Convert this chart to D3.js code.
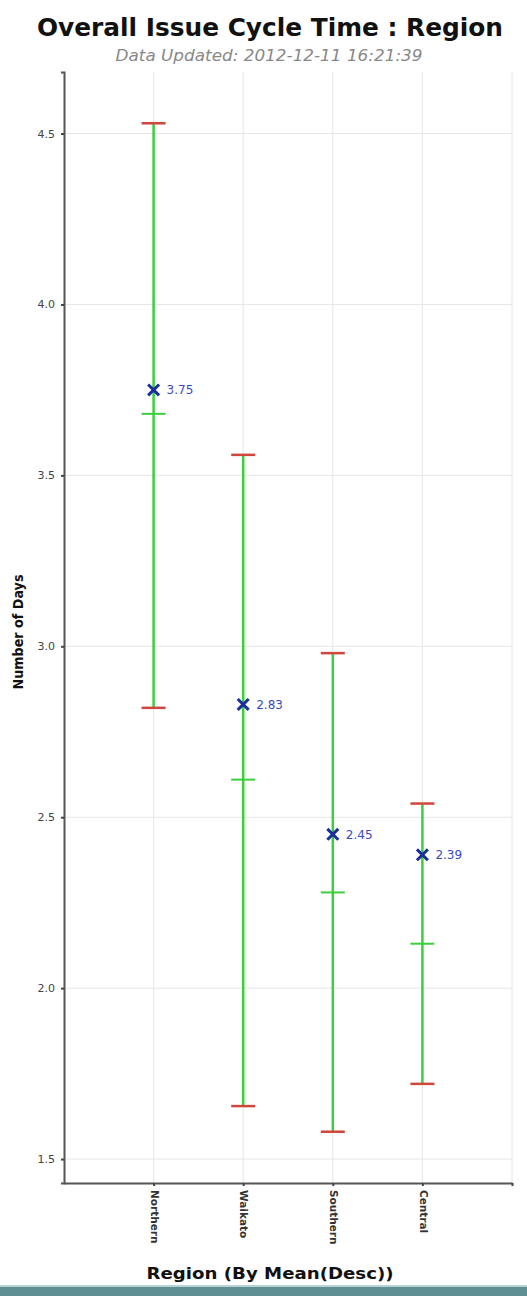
<!DOCTYPE html>
<html>
<head>
<meta charset="utf-8">
<script src="https://cdn.jsdelivr.net/npm/d3@7"></script>
<style>
  body { margin: 0; background: #fff; }
  svg { display: block; font-family: 'DejaVu Sans', Verdana, sans-serif; }
</style>
</head>
<body>
<svg width="527" height="1296"></svg>
<script>
// data
let regions = ['Northern', 'Waikato', 'Southern', 'Central'];
let highs = [4.53, 3.56, 2.98, 2.54];
let lows = [2.82, 1.655, 1.58, 1.72];
let medians = [3.68, 2.61, 2.28, 2.13];
let means = [3.75, 2.83, 2.45, 2.39];
let meanLabels = ['3.75', '2.83', '2.45', '2.39'];
let yTicks = [1.5, 2.0, 2.5, 3.0, 3.5, 4.0, 4.5];

let svg = d3.select('svg');
let marge = { top: 72, bottom: 113, left: 64, right: 15 };
let width = +svg.attr('width');
let height = +svg.attr('height');

let y = d3.scaleLinear()
  .domain([1.43, 4.68])
  .range([height - marge.bottom, marge.top]);
// five slots, first four used by regions
let x = d3.scaleLinear()
  .domain([0, 5])
  .range([marge.left, width - marge.right]);

let rows = regions.map(function(r, i) {
  return { region: r, high: highs[i], low: lows[i], median: medians[i], mean: means[i], label: meanLabels[i], i: i + 1 };
});

// title
svg.append('text')
  .attr('x', 270).attr('y', 36)
  .attr('text-anchor', 'middle')
  .attr('font-size', 24).attr('font-weight', 'bold')
  .attr('fill', '#111')
  .attr('textLength', 466).attr('lengthAdjust', 'spacingAndGlyphs')
  .text('Overall Issue Cycle Time : Region');
svg.append('text')
  .attr('x', 269).attr('y', 61)
  .attr('text-anchor', 'middle')
  .attr('font-size', 15).attr('font-style', 'italic')
  .attr('fill', '#888')
  .attr('textLength', 307).attr('lengthAdjust', 'spacingAndGlyphs')
  .text('Data Updated: 2012-12-11 16:21:39');

// grid
let grid = svg.append('g');
grid.selectAll('.hg')
  .data(yTicks)
  .enter().append('line')
  .attr('x1', marge.left).attr('x2', width - marge.right)
  .attr('y1', function(d) { return y(d); })
  .attr('y2', function(d) { return y(d); })
  .attr('stroke', '#e6e6e6').attr('stroke-width', 1);
grid.selectAll('.vg')
  .data([1, 2, 3, 4, 5])
  .enter().append('line')
  .attr('x1', function(d) { return x(d); })
  .attr('x2', function(d) { return x(d); })
  .attr('y1', marge.top).attr('y2', height - marge.bottom)
  .attr('stroke', '#e6e6e6').attr('stroke-width', 1);

// y axis
let yAxis = svg.append('g')
  .attr('transform', 'translate(' + marge.left + ',0)')
  .call(d3.axisLeft(y).tickValues(yTicks).tickFormat(d3.format('.1f')).tickSize(3).tickPadding(6));
yAxis.select('.domain').attr('stroke', '#555').attr('stroke-width', 2);
yAxis.selectAll('.tick line').attr('stroke', '#444').attr('stroke-width', 2);
yAxis.selectAll('text').attr('font-size', 11).attr('fill', '#444')
  .attr('font-family', "'DejaVu Sans', Verdana, sans-serif");

// x axis
let xAxis = svg.append('g')
  .attr('transform', 'translate(0,' + (height - marge.bottom) + ')')
  .call(d3.axisBottom(x).tickValues([1, 2, 3, 4, 5])
    .tickFormat(function(d) { return d <= regions.length ? regions[d - 1] : ''; })
    .tickSize(3).tickSizeOuter(0));
xAxis.select('.domain').attr('stroke', '#555').attr('stroke-width', 2);
xAxis.selectAll('.tick line').attr('stroke', '#444').attr('stroke-width', 2);
xAxis.selectAll('text')
  .attr('font-size', 10.5).attr('fill', '#333').attr('font-weight', 'bold')
  .attr('font-family', "'DejaVu Sans', Verdana, sans-serif")
  .attr('text-anchor', 'start')
  .attr('transform', 'rotate(90)')
  .attr('x', 7).attr('y', 0).attr('dy', '0.32em');

// axis titles
svg.append('text')
  .attr('transform', 'translate(23,632) rotate(-90)')
  .attr('text-anchor', 'middle')
  .attr('font-size', 14).attr('font-weight', 'bold')
  .attr('fill', '#111')
  .attr('textLength', 115).attr('lengthAdjust', 'spacingAndGlyphs')
  .text('Number of Days');
svg.append('text')
  .attr('x', 270).attr('y', 1279)
  .attr('text-anchor', 'middle')
  .attr('font-size', 16).attr('font-weight', 'bold')
  .attr('fill', '#111')
  .attr('textLength', 247).attr('lengthAdjust', 'spacingAndGlyphs')
  .text('Region (By Mean(Desc))');

// error bars
let bars = svg.append('g').selectAll('g')
  .data(rows)
  .enter().append('g');
bars.append('line')
  .attr('x1', function(d) { return x(d.i); })
  .attr('x2', function(d) { return x(d.i); })
  .attr('y1', function(d) { return y(d.high); })
  .attr('y2', function(d) { return y(d.low); })
  .attr('stroke', '#3ccf3c').attr('stroke-width', 2.5);
bars.append('line')
  .attr('x1', function(d) { return x(d.i) - 12; })
  .attr('x2', function(d) { return x(d.i) + 12; })
  .attr('y1', function(d) { return y(d.median); })
  .attr('y2', function(d) { return y(d.median); })
  .attr('stroke', '#3ccf3c').attr('stroke-width', 2);
['high', 'low'].forEach(function(k) {
  bars.append('line')
    .attr('x1', function(d) { return x(d.i) - 12; })
    .attr('x2', function(d) { return x(d.i) + 12; })
    .attr('y1', function(d) { return y(d[k]); })
    .attr('y2', function(d) { return y(d[k]); })
    .attr('stroke', '#d0463c').attr('stroke-width', 2.5);
});

// mean markers
let cross = d3.symbol().type(d3.symbolX).size(80);
bars.append('path')
  .attr('d', cross)
  .attr('transform', function(d) { return 'translate(' + x(d.i) + ',' + y(d.mean) + ')'; })
  .attr('stroke', '#1a2f9a').attr('stroke-width', 3).attr('fill', 'none');
bars.append('text')
  .attr('x', function(d) { return x(d.i) + 13; })
  .attr('y', function(d) { return y(d.mean); })
  .attr('dy', '0.38em')
  .attr('font-size', 12).attr('fill', '#3a4ac0')
  .text(function(d) { return d.label; });

// bottom strip
svg.append('rect')
  .attr('x', 0).attr('y', 1287).attr('width', width).attr('height', 9)
  .attr('fill', '#5f8f92');
svg.append('rect')
  .attr('x', 0).attr('y', 1285).attr('width', width).attr('height', 2)
  .attr('fill', '#b9d2d3');
</script>
</body>
</html>
